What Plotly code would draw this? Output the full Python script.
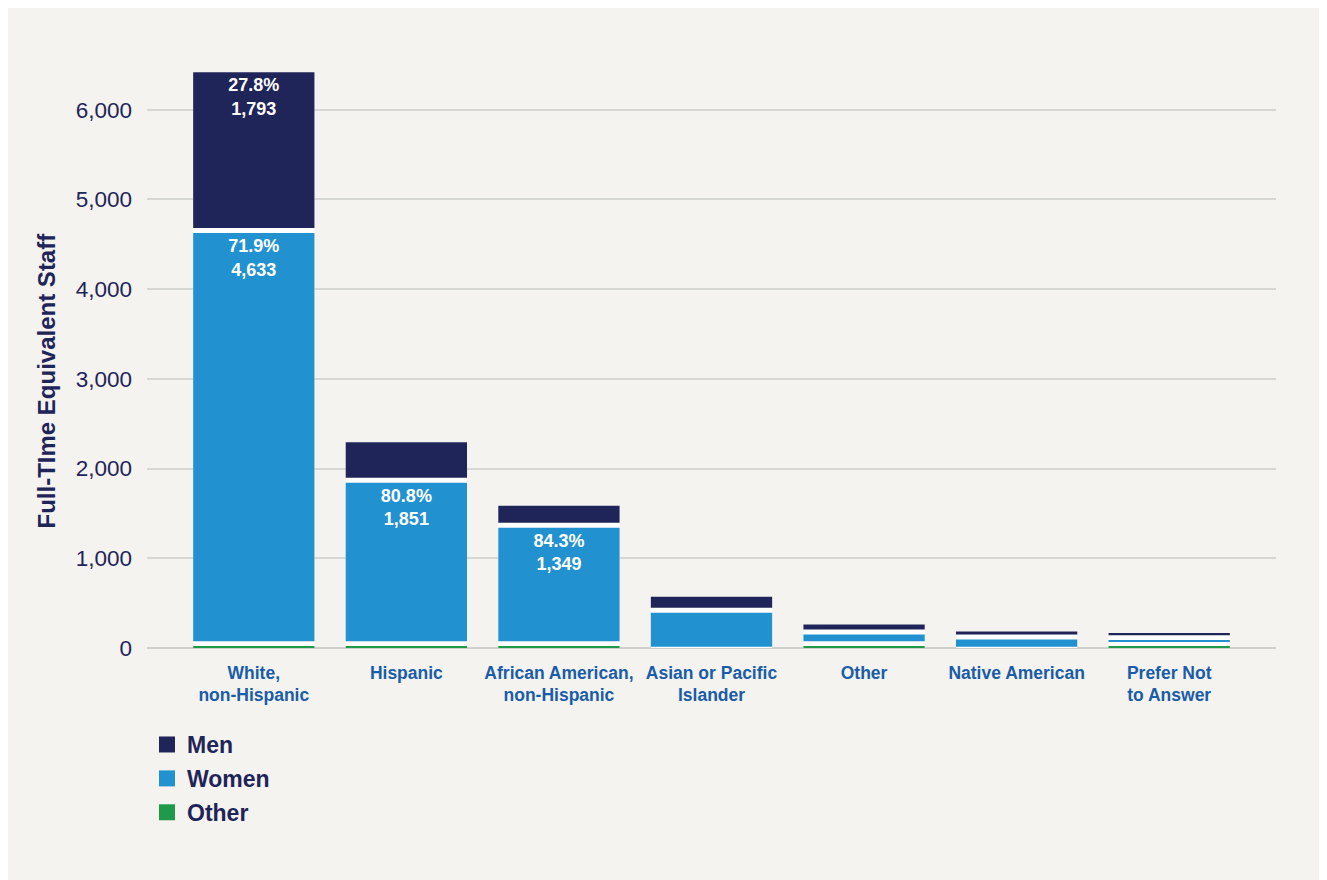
import plotly.graph_objects as go

# data
categories = ["White,<br>non-Hispanic", "Hispanic", "African American,<br>non-Hispanic",
              "Asian or Pacific<br>Islander", "Other", "Native American", "Prefer Not<br>to Answer"]
men = [1793, 450, 245, 180, 111, 89, 80]
women = [4633, 1851, 1349, 420, 159, 123, 95]
other = [20, 20, 20, 0, 20, 0, 20]
men_pct = ["27.8%", "", "", "", "", "", ""]
women_pct = ["71.9%", "80.8%", "84.3%", "", "", "", ""]

NAVY = "#1f2459"
BLUE = "#2291d0"
GREEN = "#1f9a4a"
BG = "#f4f3ef"
HALF_GAP = 28  # white gap between stacked segments, in data units

totals = [m + w + o for m, w, o in zip(men, women, other)]
women_base = [o + (2 * HALF_GAP if o > 0 else HALF_GAP / 2) for o in other]
women_top = [o + w - HALF_GAP for o, w in zip(other, women)]
men_base = [o + w + HALF_GAP for o, w in zip(other, women)]
men_top = [t - HALF_GAP for t in totals]


def label(pct, val):
    return f"<b>{pct}<br>{val:,}</b>" if pct else ""


ticktext = [f"<b>{c}</b>" for c in categories]
bar_font = dict(color="white", size=18, family="Liberation Sans, Arial")

fig = go.Figure()

# white backing so the gaps between segments read as white
fig.add_trace(go.Bar(x=categories, y=men_top, base=[0] * len(categories),
                     marker=dict(color="white", line=dict(width=0)),
                     showlegend=False, hoverinfo="skip"))

fig.add_trace(go.Bar(x=categories, y=other, base=[0] * len(categories), name="Other",
                     marker=dict(color=GREEN, line=dict(width=0)), showlegend=False))

fig.add_trace(go.Bar(
    x=categories, y=[t - b for t, b in zip(women_top, women_base)], base=women_base,
    name="Women", marker=dict(color=BLUE, line=dict(width=0)), showlegend=False,
    text=[label(p, v) for p, v in zip(women_pct, women)],
    textposition="inside", insidetextanchor="end", textangle=0, textfont=bar_font,
))

fig.add_trace(go.Bar(
    x=categories, y=[t - b for t, b in zip(men_top, men_base)], base=men_base,
    name="Men", marker=dict(color=NAVY, line=dict(width=0)), showlegend=False,
    text=[label(p, v) for p, v in zip(men_pct, men)],
    textposition="inside", insidetextanchor="end", textangle=0, textfont=bar_font,
))

# legend entries (square swatches)
for name, col in [("Men", NAVY), ("Women", BLUE), ("Other", GREEN)]:
    fig.add_trace(go.Scatter(x=[None], y=[None], mode="markers", name=f"<b>{name}</b>",
                             legendgroup=name,
                             marker=dict(symbol="square", size=16, color=col)))

fig.update_layout(
    width=1327, height=880,
    barmode="overlay", bargap=0.205,
    paper_bgcolor=BG, plot_bgcolor=BG,
    margin=dict(l=139, r=59, t=30, b=240),
    font=dict(family="Liberation Sans, Arial", color=NAVY),
    legend=dict(
        x=0.0, y=-0.123, xanchor="left", yanchor="top",
        orientation="v", tracegroupgap=1,
        font=dict(size=23, color=NAVY, family="Liberation Sans, Arial"),
        bgcolor="rgba(0,0,0,0)",
    ),
    annotations=[dict(
        text="<b>Full-TIme Equivalent Staff</b>", textangle=-90,
        xref="paper", yref="paper", x=-0.0886, y=0.4385,
        xanchor="center", yanchor="middle", showarrow=False,
        font=dict(size=24, color=NAVY, family="Liberation Sans, Arial"),
    )],
)

fig.update_xaxes(
    type="category", range=[-0.7, 6.7],
    tickvals=categories, ticktext=ticktext,
    showgrid=False, showline=False, ticks="",
    tickfont=dict(size=17.5, color="#1a5ca8", family="Liberation Sans, Arial"),
    ticklabelstandoff=12,
)

fig.update_yaxes(
    range=[0, 6800], tickvals=[0, 1000, 2000, 3000, 4000, 5000, 6000],
    tickformat=",", showgrid=True, gridcolor="#d6d6d3", gridwidth=1.5,
    zeroline=True, zerolinecolor="#cfd0cc", zerolinewidth=2,
    showline=False, ticks="",
    tickfont=dict(size=22.5, color=NAVY, family="Liberation Sans, Arial"),
    ticklabelstandoff=14,
)

fig.write_html("out.html")
